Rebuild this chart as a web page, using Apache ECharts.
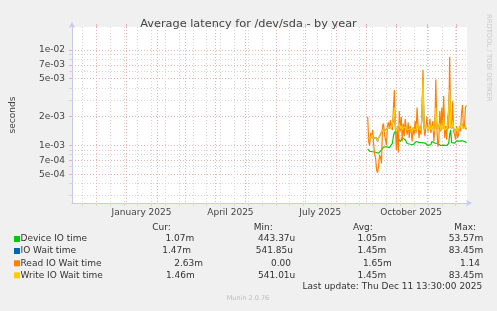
<!DOCTYPE html>
<html><head><meta charset="utf-8">
<script src="https://cdn.jsdelivr.net/npm/echarts@6/dist/echarts.min.js"></script>
<style>html,body{margin:0;padding:0;background:#F0F0F0}#c{width:497px;height:311px}</style>
</head><body><div id="c"></div>
<script>
// ---- data (values in milliseconds, one per day from dataStart) ----
const dataStart = Date.UTC(2025, 8, 2);
const deviceIO = [0.92,0.90,0.87,0.89,0.85,0.86,0.84,0.83,0.85,0.82,
 0.81,0.83,0.82,0.86,0.90,0.93,0.96,0.98,0.95,0.97,
 0.94,0.96,0.95,0.97,0.99,1.05,1.25,1.36,1.42,1.46,
 1.30,1.18,1.15,1.10,1.12,1.20,1.18,1.24,1.15,1.10,
 1.05,1.08,1.07,1.03,1.05,1.00,1.02,1.02,1.06,1.10,
 1.15,1.12,1.08,1.10,1.05,1.07,1.12,1.10,1.06,1.03,
 1.05,1.00,1.02,0.98,1.02,1.10,1.15,1.12,1.06,1.04,
 1.08,1.05,1.07,1.04,1.00,1.02,1.03,1.01,0.99,0.97,
 1.00,0.98,1.05,1.30,1.46,1.07,1.10,1.08,1.06,1.09,
 1.12,1.10,1.08,1.11,1.13,1.15,1.12,1.10,1.14,1.09,
 1.07];
const writeIO = [1.2,1.15,1.25,1.2,1.3,1.25,1.2,1.15,1.15,1.2,
 1.1,1.2,1.25,1.3,1.35,1.45,1.4,1.5,1.45,1.4,
 1.5,1.55,1.5,1.6,1.5,1.55,1.9,2.5,1.6,1.4,
 1.5,1.45,1.7,1.5,1.6,1.45,1.55,1.5,1.5,1.55,
 1.45,1.5,1.45,1.5,1.45,1.4,1.5,1.45,1.5,1.45,
 1.7,1.55,1.5,1.55,1.45,2.0,4.9,1.6,1.5,1.55,
 1.6,1.45,1.5,1.65,1.45,1.5,1.6,1.4,1.5,2.5,
 1.6,1.5,1.5,1.7,1.45,1.6,1.5,2.0,1.45,1.5,
 1.45,1.55,1.5,3.8,1.6,1.5,1.8,1.5,1.45,1.4,
 1.5,1.5,1.45,1.5,1.45,1.7,1.6,1.5,1.55,1.6,
 1.46];
const ioWait = [1.2,1.15,1.25,1.2,1.3,1.25,1.2,1.15,1.15,1.2,
 1.1,1.2,1.25,1.3,1.35,1.45,1.4,1.5,1.45,1.4,
 1.5,1.55,1.5,1.6,1.5,1.55,1.9,2.5,1.6,1.4,
 1.5,1.45,1.7,1.5,1.6,1.45,1.55,1.5,1.5,1.55,
 1.45,1.5,1.45,1.5,1.45,1.4,1.5,1.45,1.5,1.45,
 1.7,1.55,1.5,1.55,1.45,2.0,4.9,1.6,1.5,1.55,
 1.6,1.45,1.5,1.65,1.45,1.5,1.6,1.4,1.5,2.5,
 1.6,1.5,1.5,1.7,1.45,1.6,1.5,2.1,1.45,1.5,
 1.45,1.55,1.5,3.8,1.6,1.5,1.8,1.5,1.45,1.4,
 1.5,1.5,1.45,1.5,1.45,1.7,1.6,1.5,1.65,1.6,
 1.47];
const readIO = [2.0,1.1,1.0,1.35,1.2,1.45,1.05,0.8,0.75,0.55,
 0.52,0.6,0.8,0.75,0.65,1.6,1.7,1.3,1.15,1.0,
 1.6,1.75,1.5,1.85,1.55,1.45,2.35,3.8,1.6,0.9,
 1.5,0.84,2.3,1.4,2.0,1.1,1.7,1.25,1.9,1.5,
 1.3,1.75,1.2,1.6,1.4,1.1,1.55,1.3,1.8,1.35,
 2.5,1.6,1.2,1.6,1.3,2.4,6.2,1.5,1.25,1.6,
 2.0,1.4,1.5,1.9,1.35,1.6,1.8,1.1,1.5,4.9,
 1.6,0.97,1.1,2.3,1.4,2.5,1.5,3.3,1.2,1.6,
 1.15,2.0,1.5,8.5,1.7,1.5,2.9,1.4,1.3,1.15,
 1.6,1.2,1.3,1.6,1.4,2.2,2.65,1.5,1.6,2.5,
 2.63];

const seriesNames = ['Device IO time','IO Wait time','Read IO Wait time','Write IO Wait time'];
const seriesColors = ['#00CC00','#0066B3','#FF8000','#FFCC00'];
const curVals = ['1.07m','1.47m','2.63m','1.46m'];
const minVals = ['443.37u','541.85u','0.00','541.01u'];
const avgVals = ['1.05m','1.45m','1.65m','1.45m'];
const maxVals = ['53.57m','83.45m','1.14','83.45m'];

const yMajorTicks = [5e-4, 7e-4, 1e-3, 2e-3, 5e-3, 7e-3, 1e-2];
const yMinorTicks = [3e-4, 4e-4, 6e-4, 8e-4, 9e-4, 3e-3, 4e-3, 6e-3, 8e-3, 9e-3];
const monthStarts = ['2024-12-01','2025-01-01','2025-02-01','2025-03-01','2025-04-01','2025-05-01','2025-06-01','2025-07-01','2025-08-01','2025-09-01','2025-10-01','2025-11-01','2025-12-01'];
const minorDates = ['2024-11-17','2024-12-01','2024-12-15','2024-12-29','2025-01-12','2025-01-26','2025-02-09','2025-02-23','2025-03-09','2025-03-23','2025-04-06','2025-04-20','2025-05-04','2025-05-18','2025-06-01','2025-06-15','2025-06-29','2025-07-13','2025-07-27','2025-08-10','2025-08-24','2025-09-07','2025-09-21','2025-10-05','2025-10-19','2025-11-02','2025-11-16','2025-11-30'];
const xLabelDates = ['2025-01-16','2025-04-16','2025-07-16','2025-10-16'];
const xLabelTexts = ['January 2025','April 2025','July 2025','October 2025'];

const xMin = Date.UTC(2024, 10, 6, 13, 30);
const xMax = Date.UTC(2025, 11, 11, 13, 30);
const DAY = 86400000;
const ts = s => Date.parse(s + 'T00:00:00Z');

function mk(arr){ return arr.map((v,i)=>[dataStart + i*DAY, v*1e-3]); }
function fmtExp(v){
  const e = Math.floor(Math.log10(v) + 1e-9);
  const m = Math.round(v / Math.pow(10, e));
  const s = e < 0 ? '-' : '+';
  const a = Math.abs(e);
  return m + 'e' + s + (a < 10 ? '0' + a : a);
}

const FONT = 'DejaVu Sans';
const redGrid = '#EBB0B0', grayGrid = '#D6D6D6', axisCol = '#C8C8F0';
const grid = {left: 67, right: 30, top: 27, bottom: 108, show: true, backgroundColor: '#FFFFFF', borderWidth: 0};

const xBase = {type: 'value', min: xMin, max: xMax, gridIndex: 0, scale: true};
const yBase = {type: 'log', logBase: 10, min: 2.5e-4, max: 0.0174, gridIndex: 0};

const labelMap = {};
xLabelDates.forEach((d,i)=>{ labelMap[ts(d)] = xLabelTexts[i]; });

const chart = echarts.init(document.getElementById('c'), null, {renderer: 'canvas'});
const legendGraphics = [];
const rowY = [239, 251, 263.3, 275.3];
const curR = [194.3, 191, 203, 194.7], minR = [295.3, 293, 291, 295.3], avgR = [386.3, 386.3, 391.7, 386.3], maxR = [483.3, 483.3, 480, 483.3];
const txt = (text, x, y, align, size, fill) => ({type: 'text', silent: true, style: {text, x, y, textAlign: align, textVerticalAlign: 'middle', font: size + 'px "' + FONT + '"', fill}});
[['Cur:',170.7],['Min:',272.7],['Avg:',372.7],['Max:',476]].forEach(h=>legendGraphics.push(txt(h[0], h[1], 227.3, 'right', 9, '#333')));
seriesNames.forEach((n,i)=>{
  legendGraphics.push({type:'rect', silent:true, shape:{x:14, y:rowY[i]-3, width:6, height:6}, style:{fill: seriesColors[i]}});
  legendGraphics.push(txt(n, 20.5, rowY[i], 'left', 9, '#333'));
  legendGraphics.push(txt(curVals[i], curR[i], rowY[i], 'right', 9, '#333'));
  legendGraphics.push(txt(minVals[i], minR[i], rowY[i], 'right', 9, '#333'));
  legendGraphics.push(txt(avgVals[i], avgR[i], rowY[i], 'right', 9, '#333'));
  legendGraphics.push(txt(maxVals[i], maxR[i], rowY[i], 'right', 9, '#333'));
});
legendGraphics.push(txt('Last update: Thu Dec 11 13:30:00 2025', 482.3, 287, 'right', 9, '#333'));
legendGraphics.push(txt('Munin 2.0.76', 248, 298.7, 'center', 6.5, '#BBBBBB'));
legendGraphics.push({type:'text', silent:true, rotation: -Math.PI/2, x: 488.5, y: 14, style:{text:'RRDTOOL / TOBI OETIKER', textAlign:'left', textVerticalAlign:'middle', font:'6.8px "' + FONT + '"', fill:'#C8C8C8'}});

chart.setOption({
  animation: false,
  backgroundColor: '#F0F0F0',
  title: {text: 'Average latency for /dev/sda - by year', left: 'center', top: 14, textStyle: {fontFamily: FONT, fontSize: 11.3, fontWeight: 'normal', color: '#444'}},
  grid: grid,
  xAxis: [
    Object.assign({}, xBase, {
      axisLine: {show: true, lineStyle: {color: axisCol, width: 1}, symbol: ['none','arrow'], symbolSize: [5, 6], symbolOffset: [0, 5]},
      axisTick: {show: true, length: 3, lineStyle: {color: grayGrid}, customValues: minorDates.map(ts)},
      splitLine: {show: true, lineStyle: {color: grayGrid, type: [1,2], width: 1}},
      axisLabel: {show: true, customValues: xLabelDates.map(ts), margin: 5, fontFamily: FONT, fontSize: 9, color: '#444', formatter: v => labelMap[v] || ''}
    }),
    Object.assign({}, xBase, {
      axisLine: {show: false},
      axisTick: {show: true, length: 3, lineStyle: {color: redGrid}, customValues: monthStarts.map(ts)},
      splitLine: {show: true, lineStyle: {color: redGrid, type: [1,2], width: 1}},
      axisLabel: {show: false}
    })
  ],
  yAxis: [
    Object.assign({}, yBase, {
      name: 'seconds', nameLocation: 'middle', nameGap: 55, nameRotate: 90,
      nameTextStyle: {fontFamily: FONT, fontSize: 9, color: '#444'},
      axisLine: {show: true, lineStyle: {color: axisCol, width: 1}, symbol: ['none','arrow'], symbolSize: [5, 6], symbolOffset: [0, 5]},
      axisTick: {show: true, length: 3, lineStyle: {color: grayGrid}, customValues: yMinorTicks},
      splitLine: {show: true, lineStyle: {color: grayGrid, type: [1,2], width: 1}},
      axisLabel: {show: false}
    }),
    Object.assign({}, yBase, {
      position: 'left',
      axisLine: {show: false},
      axisTick: {show: true, length: 3, lineStyle: {color: redGrid}, customValues: yMajorTicks},
      splitLine: {show: true, lineStyle: {color: redGrid, type: [1,2], width: 1}},
      axisLabel: {show: true, customValues: yMajorTicks, margin: 7, fontFamily: FONT, fontSize: 9, color: '#444', formatter: v => fmtExp(v)}
    })
  ],
  series: [deviceIO, ioWait, readIO, writeIO].map((arr, i) => ({
    name: seriesNames[i], type: 'line', xAxisIndex: 0, yAxisIndex: 0, showSymbol: false, symbol: 'none',
    lineStyle: {color: seriesColors[i], width: 1.2}, itemStyle: {color: seriesColors[i]},
    data: mk(arr), z: 3 + i
  })),
  graphic: legendGraphics
});
</script></body></html>
